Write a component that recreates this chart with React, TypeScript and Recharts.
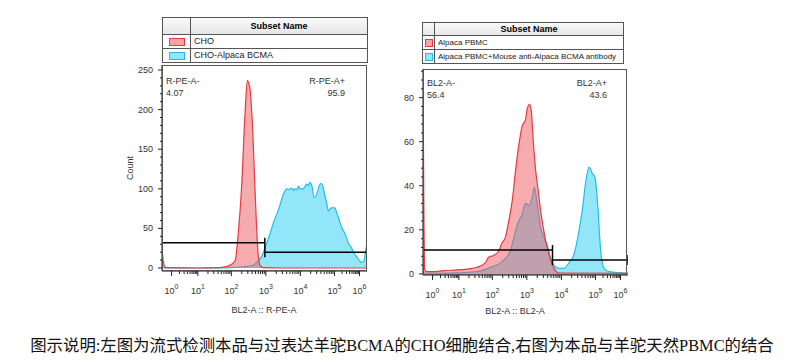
import React from 'react'
import { ComposedChart, Area, Line, XAxis, YAxis } from 'recharts'

// x positions are in display (biex) units, 0..6 across the plot
const X_TICK_POS = [0.28, 1.05, 2.03, 3.04, 4.05, 5.05, 5.78]
const X_TICK_EXP = ['0', '1', '2', '3', '4', '5', '6']

const LEFT_Y_TICKS = [0, 50, 100, 150, 200, 250]
const RIGHT_Y_TICKS = [0, 20, 40, 60, 80]

// [x, count]
const CHO: [number, number][] = [
  [0, 25], [0.04, 8], [0.1, 0.5], [1.0, 0], [1.7, 0.5], [1.9, 2], [2.05, 5], [2.14, 9],
  [2.23, 43], [2.33, 102], [2.43, 195], [2.5, 237], [2.53, 234], [2.58, 225], [2.65, 178],
  [2.72, 102], [2.8, 26], [2.87, 3], [2.97, 0.5], [3.5, 0], [6, 0],
]
const CHO_BCMA: [number, number][] = [
  [0, 0], [1.8, 0], [2.2, 1], [2.5, 2], [2.7, 4], [2.77, 7], [2.92, 15], [3.02, 26], [3.16, 43],
  [3.26, 57], [3.36, 68], [3.45, 79], [3.55, 93], [3.65, 100], [3.72, 99], [3.79, 101],
  [3.85, 98], [3.89, 100], [3.95, 99], [3.99, 103], [4.05, 100], [4.13, 100], [4.23, 106],
  [4.28, 104], [4.33, 108], [4.38, 105], [4.45, 89], [4.49, 90], [4.53, 93], [4.6, 104],
  [4.65, 107], [4.7, 104], [4.77, 91], [4.82, 82], [4.87, 72], [4.92, 75], [4.97, 76],
  [5.06, 76], [5.11, 70], [5.16, 64], [5.26, 51], [5.36, 43], [5.45, 32], [5.55, 25],
  [5.65, 17], [5.75, 11], [5.84, 7], [5.91, 9], [5.96, 22], [6, 30],
]
const PBMC: [number, number][] = [
  [0, 95], [0.02, 40], [0.05, 2], [0.1, 1], [0.3, 1], [0.6, 1.5], [0.99, 1.8], [1.28, 2.2],
  [1.58, 3], [1.82, 5], [1.92, 7.6], [2.07, 8.4], [2.22, 10.5], [2.31, 14], [2.41, 16.6],
  [2.51, 24], [2.61, 33], [2.71, 47], [2.8, 58], [2.9, 67], [3.0, 70], [3.05, 75], [3.12, 77],
  [3.17, 74], [3.22, 62], [3.29, 48], [3.37, 38], [3.44, 29], [3.52, 21], [3.59, 15],
  [3.67, 10], [3.74, 6], [3.82, 3], [3.9, 1], [4.0, 0.4], [6, 0.3],
]
const PBMC_AB: [number, number][] = [
  [0, 0.3], [1.0, 0.5], [1.58, 1], [2.07, 3.6], [2.27, 5], [2.41, 7], [2.56, 10.5], [2.66, 16.6],
  [2.8, 24], [2.9, 27], [3.0, 32], [3.1, 31], [3.2, 35], [3.26, 39.4], [3.34, 32], [3.44, 21],
  [3.54, 16.6], [3.64, 12.8], [3.74, 7], [3.83, 4], [3.98, 2.5], [4.13, 2.5], [4.27, 5],
  [4.42, 9], [4.57, 20], [4.67, 30], [4.77, 42.5], [4.86, 48.5], [4.96, 45.5], [5.03, 44],
  [5.11, 32], [5.2, 10.5], [5.3, 2.5], [5.45, 1], [6, 0.3],
]

// gates: [from, to, level]
const LEFT_GATE_NEG = [0, 3.01, 32]
const LEFT_GATE_POS = [3.01, 6, 20]
const RIGHT_GATE_NEG = [0, 3.79, 10.8]
const RIGHT_GATE_POS = [3.79, 6, 6.3]

const RED = '#e8393f'
const RED_FILL = '#ee5a60'
const BLUE = '#1fbfe8'
const BLUE_FILL = '#92e6f8'
const FONT = '"Liberation Sans", Arial, sans-serif'

const toPts = (arr: [number, number][]) => arr.map(([x, y]) => ({ x, y }))
const gatePts = (g: number[]) => [{ x: g[0], y: g[2] }, { x: g[1], y: g[2] }]

const minorX: number[] = []
for (let d = 0; d < X_TICK_POS.length - 1; d++) {
  for (let k = 2; k <= 9; k++) {
    minorX.push(X_TICK_POS[d] + (X_TICK_POS[d + 1] - X_TICK_POS[d]) * Math.log10(k))
  }
}
const xTicks = [...X_TICK_POS, ...minorX].sort((a, b) => a - b)

const range = (max: number, step: number) => {
  const out: number[] = []
  for (let v = 0; v <= max; v += step) out.push(v)
  return out
}

const XTick = ({ x, y, payload }: any) => {
  const i = X_TICK_POS.indexOf(payload.value)
  if (i < 0) return <line x1={x} x2={x} y1={y} y2={y + 3} stroke="#222" />
  return (
    <g>
      <line x1={x} x2={x} y1={y} y2={y + 5} stroke="#222" />
      <text x={x} y={y + 23} textAnchor="middle" fontSize={9} fill="#333" fontFamily={FONT}>
        <tspan>10</tspan>
        <tspan dy={-5} fontSize={7}>{X_TICK_EXP[i]}</tspan>
      </text>
    </g>
  )
}

const makeYTick = (majors: number[]) => ({ x, y, payload }: any) => {
  if (!majors.includes(payload.value)) return <line x1={x} x2={x - 2} y1={y} y2={y} stroke="#222" />
  return (
    <g>
      <line x1={x} x2={x - 4} y1={y} y2={y} stroke="#222" />
      <text x={x - 9} y={y + 3} textAnchor="end" fontSize={9} fill="#333" fontFamily={FONT}>{payload.value}</text>
    </g>
  )
}

const GateCap = (p: any) => (
  <line key={`${p.cx}-${p.index}`} x1={p.cx} x2={p.cx} y1={p.cy - 5} y2={p.cy + 5} stroke="#000" strokeWidth={1.5} />
)

interface HistProps {
  red: [number, number][]
  blue: [number, number][]
  gates: number[][]
  yMax: number
  yMin: number
  yMajors: number[]
  yMinorStep: number
  countLabel?: boolean
}

function Histogram({ red, blue, gates, yMax, yMin, yMajors, yMinorStep, countLabel }: HistProps) {
  const yTicks = range(yMajors[yMajors.length - 1] + yMinorStep * 3, yMinorStep).filter((v) => v <= yMax)
  return (
    <ComposedChart width={280} height={276} margin={{ top: 10, right: 13, left: 0, bottom: 0 }}>
      <XAxis
        type="number" dataKey="x" domain={[0, 6]} allowDataOverflow ticks={xTicks} interval={0}
        tick={<XTick />} tickLine={false} tickSize={0} tickMargin={0} height={60}
        axisLine={{ stroke: '#111' }}
      />
      <YAxis
        type="number" dataKey="y" domain={[yMin, yMax]} allowDataOverflow ticks={yTicks} interval={0}
        tick={makeYTick(yMajors)} tickLine={false} tickSize={0} tickMargin={0} width={62}
        axisLine={{ stroke: '#111' }}
        label={countLabel ? { value: 'Count', angle: -90, position: 'center', dx: -1, fontSize: 9, fill: '#333', fontFamily: FONT } : undefined}
      />
      <Area data={toPts(blue)} dataKey="y" type="monotone" stroke={BLUE} strokeWidth={1.2} fill={BLUE_FILL} fillOpacity={1} isAnimationActive={false} />
      <Area data={toPts(red)} dataKey="y" type="monotone" stroke={RED} strokeWidth={1.2} fill={RED_FILL} fillOpacity={0.5} isAnimationActive={false} />
      {gates.map((g, i) => (
        <Line key={i} data={gatePts(g)} dataKey="y" stroke="#000" strokeWidth={1.5} dot={GateCap} activeDot={false} isAnimationActive={false} />
      ))}
    </ComposedChart>
  )
}

const abs = (left: number, top: number, extra: React.CSSProperties = {}): React.CSSProperties => ({ position: 'absolute', left, top, ...extra })

function LegendTable({ left, top, width, firstCol, headH, rowH, rows, fontSize, swatch }: any) {
  return (
    <div style={abs(left, top, { width, border: '1px solid #555', boxSizing: 'border-box', fontSize })}>
      <div style={{ display: 'flex', height: headH, borderBottom: '1px solid #555', background: 'linear-gradient(#fafafa, #e6e6e6)' }}>
        <div style={{ width: firstCol, borderRight: '1px solid #555' }} />
        <div style={{ flex: 1, textAlign: 'center', fontWeight: 'bold', lineHeight: `${headH}px`, fontSize: 9 }}>Subset Name</div>
      </div>
      {rows.map((r: any, i: number) => (
        <div key={i} style={{ display: 'flex', height: rowH, borderBottom: i < rows.length - 1 ? '1px solid #555' : 'none' }}>
          <div style={{ width: firstCol, borderRight: '1px solid #555', display: 'flex', alignItems: 'center', justifyContent: 'center' }}>
            <div style={{ width: swatch[0], height: swatch[1], background: r.fill, border: `1.5px solid ${r.stroke}` }} />
          </div>
          <div style={{ flex: 1, paddingLeft: 3, lineHeight: `${rowH}px`, whiteSpace: 'nowrap', color: '#222' }}>{r.name}</div>
        </div>
      ))}
    </div>
  )
}

const LEFT_NAMES = ['CHO', 'CHO-Alpaca BCMA']
const RIGHT_NAMES = ['Alpaca PBMC', 'Alpaca PBMC+Mouse anti-Alpaca BCMA antibody']

const gateText: React.CSSProperties = { fontSize: 9, color: '#333', lineHeight: '10px', whiteSpace: 'nowrap' }

export default function App() {
  return (
    <div style={{ position: 'absolute', left: 0, top: 0, width: 804, height: 364, background: '#fff', fontFamily: FONT, overflow: 'hidden' }}>
      <LegendTable
        left={162} top={17} width={206} firstCol={27} headH={16} rowH={13} fontSize={9} swatch={[14, 6]}
        rows={[{ name: LEFT_NAMES[0], fill: '#f5a3a5', stroke: RED }, { name: LEFT_NAMES[1], fill: BLUE_FILL, stroke: BLUE }]}
      />
      <LegendTable
        left={422} top={22} width={202} firstCol={11} headH={12} rowH={13} fontSize={8} swatch={[6, 6]}
        rows={[{ name: RIGHT_NAMES[0], fill: '#f5a3a5', stroke: RED }, { name: RIGHT_NAMES[1], fill: BLUE_FILL, stroke: BLUE }]}
      />

      <div style={abs(100, 55)}>
        <Histogram red={CHO} blue={CHO_BCMA} gates={[LEFT_GATE_NEG, LEFT_GATE_POS]} yMin={-3.8} yMax={256.3} yMajors={LEFT_Y_TICKS} yMinorStep={10} countLabel />
      </div>
      <div style={abs(162, 65, { width: 205, height: 206, border: '1px solid #555', boxSizing: 'border-box', pointerEvents: 'none' })} />
      <div style={abs(166, 76, gateText)}>R-PE-A-</div>
      <div style={abs(166, 88, gateText)}>4.07</div>
      <div style={abs(245, 76, { ...gateText, width: 100, textAlign: 'right' })}>R-PE-A+</div>
      <div style={abs(245, 88, { ...gateText, width: 100, textAlign: 'right' })}>95.9</div>
      <div style={abs(164, 305, { ...gateText, width: 200, textAlign: 'center' })}>BL2-A :: R-PE-A</div>

      <div style={abs(361, 59)}>
        <Histogram red={PBMC} blue={PBMC_AB} gates={[RIGHT_GATE_NEG, RIGHT_GATE_POS]} yMin={-0.5} yMax={93} yMajors={RIGHT_Y_TICKS} yMinorStep={4} />
      </div>
      <div style={abs(423, 69, { width: 204, height: 206, border: '1px solid #555', boxSizing: 'border-box', pointerEvents: 'none' })} />
      <div style={abs(427, 78, gateText)}>BL2-A-</div>
      <div style={abs(427, 90, gateText)}>56.4</div>
      <div style={abs(507, 78, { ...gateText, width: 100, textAlign: 'right' })}>BL2-A+</div>
      <div style={abs(507, 90, { ...gateText, width: 100, textAlign: 'right' })}>43.6</div>
      <div style={abs(415, 306, { ...gateText, width: 200, textAlign: 'center' })}>BL2-A :: BL2-A</div>

      <div style={abs(0, 336, { width: 804, textAlign: 'center', fontSize: 16.4, lineHeight: '20px', color: '#111', fontFamily: '"Liberation Serif", "Noto Sans CJK SC", serif', whiteSpace: 'nowrap' })}>
        图示说明:左图为流式检测本品与过表达羊驼BCMA的CHO细胞结合,右图为本品与羊驼天然PBMC的结合
      </div>
    </div>
  )
}
